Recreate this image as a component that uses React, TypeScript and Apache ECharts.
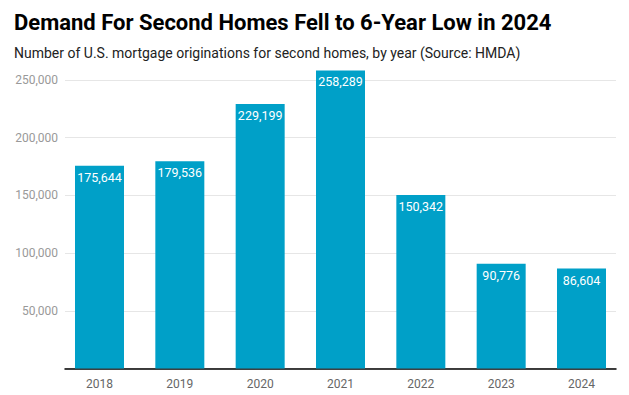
import React, { useEffect, useRef } from "react";
import * as echarts from "echarts";

const years = ["2018", "2019", "2020", "2021", "2022", "2023", "2024"];
const originations = [175644, 179536, 229199, 258289, 150342, 90776, 86604];
const yTicks = [0, 50000, 100000, 150000, 200000, 250000];

const fmt = (v: number) => v.toLocaleString("en-US");

export default function App() {
  const ref = useRef<HTMLDivElement>(null);
  useEffect(() => {
    if (!ref.current) return;
    const chart = echarts.init(ref.current, undefined, { renderer: "svg" });
    const yMin = yTicks[0];
    const yMax = yTicks[yTicks.length - 1];
    chart.setOption({
      animation: false,
      backgroundColor: "#ffffff",
      title: [
        {
          text: "Demand For Second Homes Fell to 6-Year Low in 2024",
          left: 14,
          top: 11,
          padding: 0,
          textStyle: { fontFamily: "Roboto", fontWeight: "bold", fontSize: 22, color: "#000" },
        },
        {
          text: "Number of U.S. mortgage originations for second homes, by year (Source: HMDA)",
          left: 14,
          top: 46,
          padding: 0,
          textStyle: { fontFamily: "Roboto", fontWeight: "normal", fontSize: 14, color: "#222" },
        },
      ],
      grid: [
        { left: 65, right: 13, top: 80, bottom: 26.5, containLabel: false },
        { left: 59.33, right: 7.33, top: 80, bottom: 26.5, containLabel: false },
      ],
      xAxis: [
        {
          type: "category",
          gridIndex: 0,
          data: years,
          axisLine: { show: true, lineStyle: { color: "#000", width: 1.5 } },
          axisTick: { show: false },
          axisLabel: { show: false },
        },
        {
          type: "category",
          gridIndex: 1,
          data: years,
          axisLine: { show: false },
          axisTick: { show: false },
          axisLabel: { color: "#666", fontFamily: "Roboto", fontSize: 12, margin: 9 },
        },
      ],
      yAxis: [
        {
          type: "value",
          gridIndex: 0,
          min: yMin,
          max: yMax,
          interval: 50000,
          axisLine: { show: false },
          axisTick: { show: false },
          splitLine: { lineStyle: { color: "#e6e6e6" } },
          axisLabel: {
            color: "#999",
            fontFamily: "Roboto",
            fontSize: 12,
            margin: 7,
            showMinLabel: false,
            formatter: (v: number) => fmt(v),
          },
        },
        {
          type: "value",
          gridIndex: 1,
          min: yMin,
          max: yMax,
          interval: 50000,
          show: false,
          splitLine: { show: false },
        },
      ],
      series: [
        {
          type: "bar",
          xAxisIndex: 1,
          yAxisIndex: 1,
          data: originations,
          clip: false,
          barWidth: 49,
          itemStyle: { color: "#00a0c8" },
          label: {
            show: true,
            position: "insideTop",
            distance: 5,
            color: "#fff",
            fontFamily: "Roboto",
            fontSize: 12.5,
            formatter: (p: any) => fmt(p.value),
          },
        },
      ],
    });
    return () => chart.dispose();
  }, []);
  return <div ref={ref} style={{ width: 629, height: 395, position: "absolute", left: 0, top: 0 }} />;
}
